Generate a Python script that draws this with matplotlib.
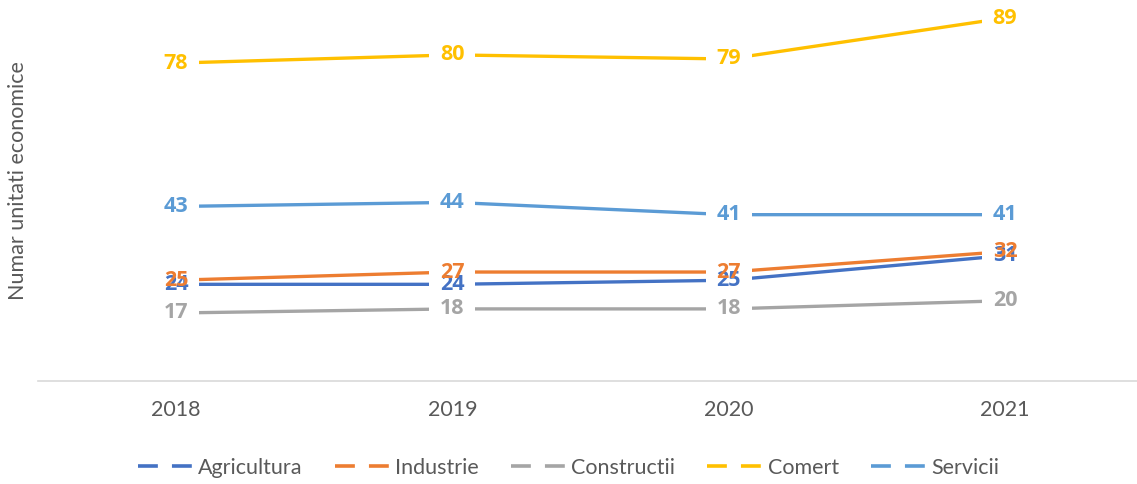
"""Numar unitati economice pe sectoare, 2018-2021 (line chart, Excel style)."""

import matplotlib

matplotlib.use("Agg")
import matplotlib.pyplot as plt  # noqa: E402
from matplotlib.lines import Line2D  # noqa: E402
from matplotlib.path import Path  # noqa: E402

plt.rcParams["font.family"] = ["Lato", "DejaVu Sans"]

years = ["2018", "2019", "2020", "2021"]
agricultura = [24, 24, 25, 31]
industrie = [25, 27, 27, 32]
constructii = [17, 18, 18, 20]
comert = [78, 80, 79, 89]
servicii = [43, 44, 41, 41]

series = [
    ("Agricultura", agricultura, "#4472C4"),
    ("Industrie", industrie, "#ED7D31"),
    ("Constructii", constructii, "#A5A5A5"),
    ("Comert", comert, "#FFC000"),
    ("Servicii", servicii, "#5B9BD5"),
]

# wide white box behind each data label, like Excel's filled label
LABEL_BOX = Path([(-1, -0.4), (1, -0.4), (1, 0.4), (-1, 0.4), (-1, -0.4)],
                 [Path.MOVETO, Path.LINETO, Path.LINETO, Path.LINETO, Path.CLOSEPOLY])

fig = plt.figure(figsize=(11.37, 4.84), dpi=100)
ax = fig.add_axes([0.0334, 0.2128, 0.972, 0.7872])

x = list(range(len(years)))
for name, values, color in series:
    ax.plot(x, values, color=color, linewidth=2.4, solid_capstyle="butt", zorder=2)
for name, values, color in series:
    ax.plot(x, values, linestyle="none", marker=LABEL_BOX, markersize=33,
            markerfacecolor="white", markeredgewidth=0, zorder=3)
for name, values, color in series:
    for xi, v in zip(x, values):
        ax.text(xi, v, f"{v}", ha="center", va="center", fontsize=15.5,
                family=["Open Sans", "DejaVu Sans"], fontweight="bold",
                color=color, zorder=4)

ax.set_xlim(-0.5, len(years) - 0.5)
ax.set_ylim(0.4, 93.4)
ax.set_xticks(x)
ax.set_xticklabels(years, fontsize=15.5, color="#595959")
ax.set_yticks([])
ax.tick_params(axis="x", length=0, pad=14)
for side in ("top", "right", "left"):
    ax.spines[side].set_visible(False)
ax.spines["bottom"].set_color("#D9D9D9")
ax.spines["bottom"].set_linewidth(1.2)

fig.text(18 / 1137, 1 - 181 / 484, "Numar unitati economice", rotation=90,
         ha="center", va="center", fontsize=15.5, color="#595959")

handles = [Line2D([0], [0], color=c, linewidth=2.6, linestyle=(0, (5.5, 3.9)))
           for _, _, c in series]
fig.legend(handles, [s[0] for s in series], loc="center",
           bbox_to_anchor=(0.5, 1 - 468 / 484), ncol=5, frameon=False,
           fontsize=15.5, handlelength=2.55, handletextpad=0.25, columnspacing=1.5,
           labelcolor="#595959")

fig.savefig("out.png", dpi=100)
